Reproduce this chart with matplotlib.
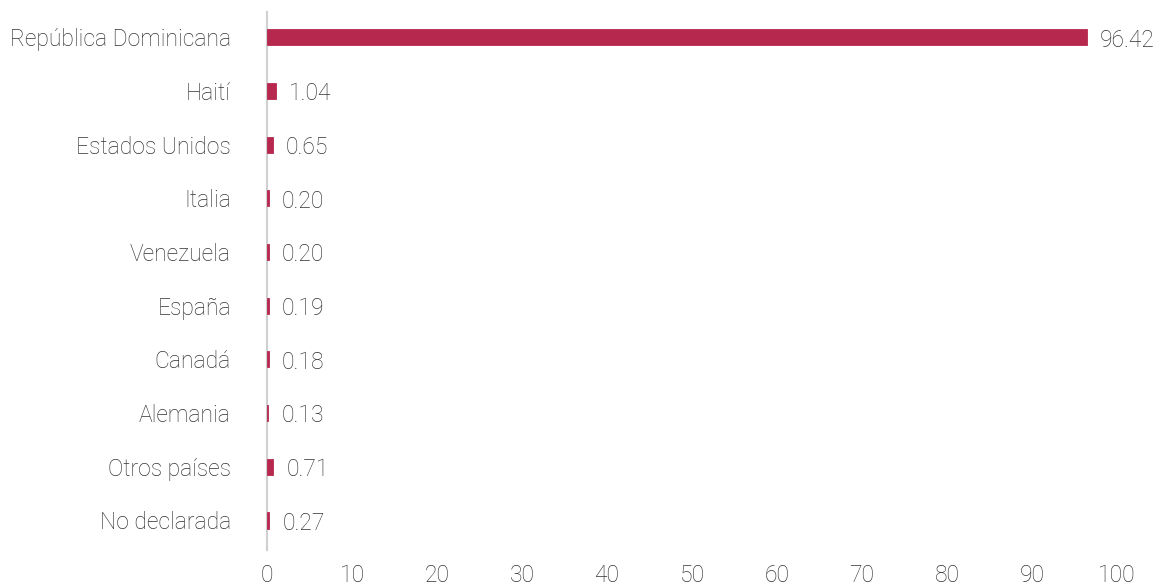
import matplotlib.pyplot as plt

# data
countries = ["República Dominicana", "Haití", "Estados Unidos", "Italia", "Venezuela",
             "España", "Canadá", "Alemania", "Otros países", "No declarada"]
values = [96.42, 1.04, 0.65, 0.20, 0.20, 0.19, 0.18, 0.13, 0.71, 0.27]
xticks = [0, 10, 20, 30, 40, 50, 60, 70, 80, 90, 100]

plt.rcParams['font.family'] = ['Roboto', 'DejaVu Sans']
plt.rcParams['font.weight'] = 'light'

fig = plt.figure(figsize=(11.58, 5.86), dpi=100)
ax = fig.add_axes([267 / 1158, 1 - 550 / 586, 850 / 1158, 538 / 586])

ypos = list(range(len(countries)))
ax.barh(ypos, values, height=0.3, color="#B7284F", edgecolor="#B7284F",
        linewidth=0.6, zorder=3)

for y, v in zip(ypos, values):
    ax.annotate(f"{v:.2f}", (v, y), xytext=(9.5, -2.0), textcoords="offset points",
                va="center", ha="left", fontsize=16.5, color="#333333", fontweight="light")

ax.set_ylim(9.55, -0.47)
ax.set_xlim(0, 100)
ax.set_yticks(ypos)
ax.set_yticklabels(countries)
ax.set_xticks(xticks)
ax.tick_params(axis="both", length=0, labelsize=16.5, colors="#333333")
ax.tick_params(axis="y", pad=26)
ax.tick_params(axis="x", pad=10)

for s in ["top", "right", "bottom"]:
    ax.spines[s].set_visible(False)
ax.spines["left"].set_color("#D0D0D0")
ax.spines["left"].set_linewidth(1.5)
ax.spines["left"].set_zorder(1)

fig.savefig("out.png", dpi=100)
